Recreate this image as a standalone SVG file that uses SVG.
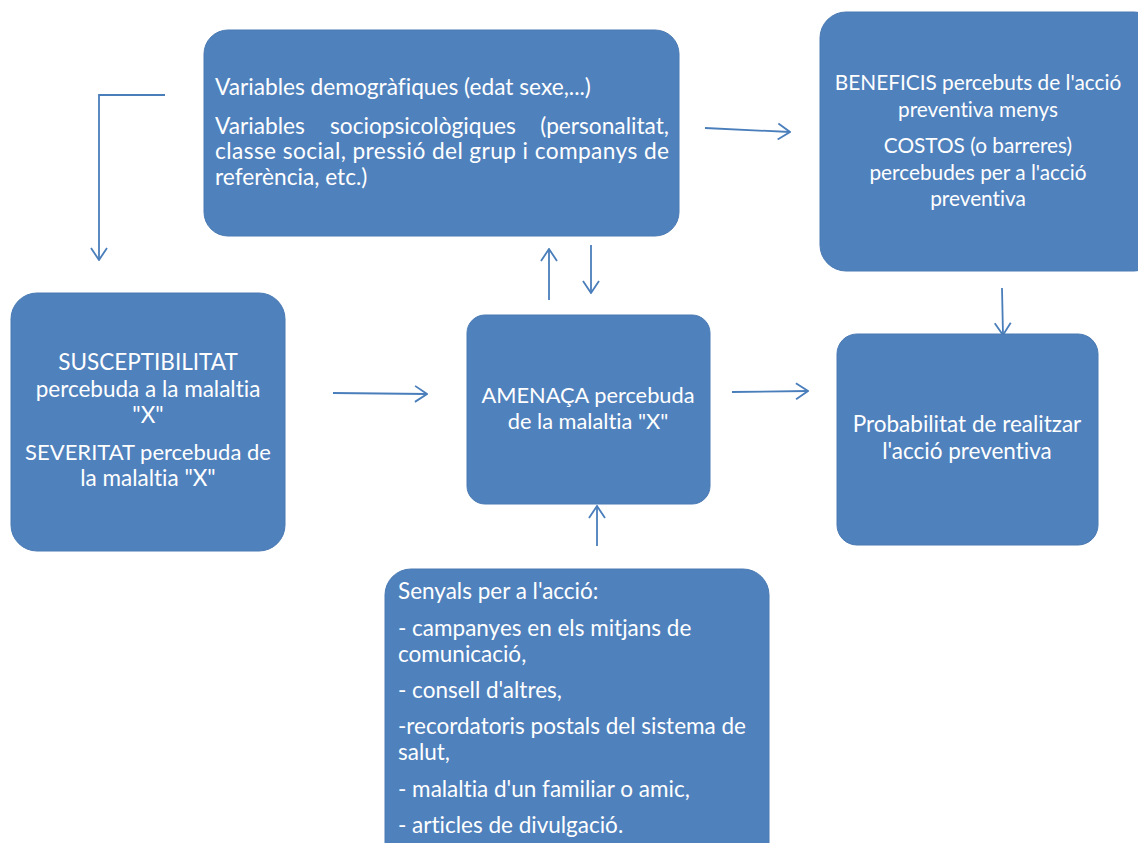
<svg xmlns="http://www.w3.org/2000/svg" width="1138" height="843" viewBox="0 0 1138 843">
  <style>
    .box { fill: #4F81BD; stroke: #4A7AB3; stroke-width: 1; }
    .t { font-family: Lato, "Open Sans", sans-serif; font-size: 22.5px; fill: #FFFFFF; font-variant-ligatures: none; font-feature-settings: "liga" 0; }
    .c { text-anchor: middle; }
    .e { text-anchor: end; }
    .link { fill: none; stroke: #4A7EBB; stroke-width: 1.8; marker-end: url(#open); }
  </style>
  <defs>
    <marker id="open" viewBox="0 0 14 18" refX="13" refY="9" markerWidth="14" markerHeight="18" markerUnits="userSpaceOnUse" orient="auto">
      <path d="M1,1 L13,9 L1,17" fill="none" stroke="#4A7EBB" stroke-width="1.8"/>
    </marker>
  </defs>
  <rect width="1138" height="843" fill="#FFFFFF"/>

  <g id="connectors">
    <path class="link" d="M165,95 L99,95 L99,260"/>
    <path class="link" d="M705,128 L790,132"/>
    <path class="link" d="M549,300 L549,249"/>
    <path class="link" d="M591,245 L591,293"/>
    <path class="link" d="M333,393 L427,394"/>
    <path class="link" d="M732,392 L808,391"/>
    <path class="link" d="M1002,288 L1003,335"/>
    <path class="link" d="M597,546 L597,506"/>
  </g>

  <g id="factors">
    <rect class="box" x="204" y="30" width="475" height="206" rx="24"/>
    <text class="t" style="font-size:22.7px" x="215" y="95">Variables demogràfiques (edat sexe,...)</text>
    <text class="t" style="font-size:22.7px" x="215" y="134">Variables</text>
    <text class="t" style="font-size:22.7px" x="330" y="134">sociopsicològiques</text>
    <text class="t e" style="font-size:22.7px" x="669" y="134">(personalitat,</text>
    <text class="t" style="font-size:22.7px" x="215" y="159" textLength="454" lengthAdjust="spacing">classe social, pressió del grup i companys de</text>
    <text class="t" style="font-size:22.7px" x="215" y="185">referència, etc.)</text>
  </g>

  <g id="benefits">
    <rect class="box" x="820" y="12" width="340" height="259" rx="26"/>
    <text class="t c" style="font-size:20.8px" x="978" y="90">BENEFICIS percebuts de l'acció</text>
    <text class="t c" style="font-size:20.8px" x="978" y="117">preventiva menys</text>
    <text class="t c" style="font-size:20.8px" x="978" y="153">COSTOS (o barreres)</text>
    <text class="t c" style="font-size:20.8px" x="978" y="180">percebudes per a l'acció</text>
    <text class="t c" style="font-size:20.8px" x="978" y="206">preventiva</text>
  </g>

  <g id="susceptibility">
    <rect class="box" x="11" y="293" width="274" height="258" rx="26"/>
    <text class="t c" x="148" y="370">SUSCEPTIBILITAT</text>
    <text class="t c" x="148" y="397">percebuda a la malaltia</text>
    <text class="t c" x="148" y="423">"X"</text>
    <text class="t c" style="font-size:22px" x="148" y="460">SEVERITAT percebuda de</text>
    <text class="t c" x="148" y="486">la malaltia "X"</text>
  </g>

  <g id="threat">
    <rect class="box" x="467" y="315" width="243" height="189" rx="18"/>
    <text class="t c" style="font-size:21.8px" x="588" y="403">AMENAÇA percebuda</text>
    <text class="t c" style="font-size:21.8px" x="588" y="429">de la malaltia "X"</text>
  </g>

  <g id="probability">
    <rect class="box" x="837" y="334" width="261" height="211" rx="20"/>
    <text class="t c" x="967" y="432">Probabilitat de realitzar</text>
    <text class="t c" x="967" y="459">l'acció preventiva</text>
  </g>

  <g id="cues">
    <rect class="box" x="385" y="569" width="384" height="300" rx="26"/>
    <text class="t" x="398" y="599">Senyals per a l'acció:</text>
    <text class="t" x="398" y="636">- campanyes en els mitjans de</text>
    <text class="t" x="398" y="662">comunicació,</text>
    <text class="t" x="398" y="698">- consell d'altres,</text>
    <text class="t" x="398" y="734">-recordatoris postals del sistema de</text>
    <text class="t" x="398" y="760">salut,</text>
    <text class="t" x="398" y="797">- malaltia d'un familiar o amic,</text>
    <text class="t" x="398" y="833">- articles de divulgació.</text>
  </g>
</svg>
